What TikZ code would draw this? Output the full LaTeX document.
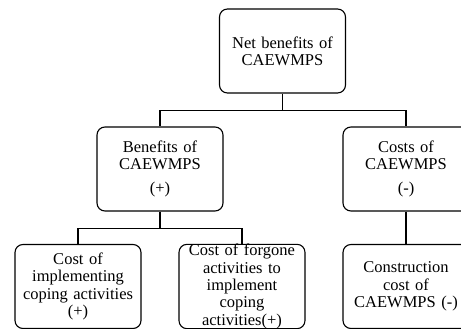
\documentclass[tikz,border=0pt]{standalone}
\usepackage{fontspec}
\setmainfont{Liberation Serif}

\begin{document}
\begin{tikzpicture}[x=1pt, y=-1pt, line width=1.1pt,
    box/.style={draw, rounded corners=8pt, align=center, text width=122pt,
        inner xsep=2pt, inner ysep=0pt, minimum width=126pt, minimum height=84pt,
        font=\fontsize{16.5}{17.3}\selectfont}]
    % 画布大小
    \clip (0,0) rectangle (461,329);

    % 顶层节点
    \node[box] (net) at (282.5, 51) {Net benefits of\\CAEWMPS};

    % 第二层：收益与成本
    \node[box] (ben) at (160, 169) {Benefits of\\CAEWMPS\\[7pt](+)};
    \node[box] (cst) at (406, 169) {Costs of\\CAEWMPS\\[7pt](-)};

    % 第三层
    \node[box] (cope) at (78, 286.5) {Cost of\\implementing\\coping activities\\(+)};
    \node[box] (forgo) at (242, 286.5) {Cost of forgone\\activities to\\implement\\coping\\activities(+)};
    \node[box] (build) at (406, 286.5) {Construction\\cost of\\CAEWMPS (-)};

    % 连接线
    \draw (net.south) -- ++(0,17) coordinate (j1) -| (ben.north);
    \draw (j1) -| (cst.north);
    \draw (ben.south) -- ++(0,17) coordinate (j2) -| (cope.north);
    \draw (j2) -| (forgo.north);
    \draw (cst.south) -- (build.north);
\end{tikzpicture}
\end{document}
